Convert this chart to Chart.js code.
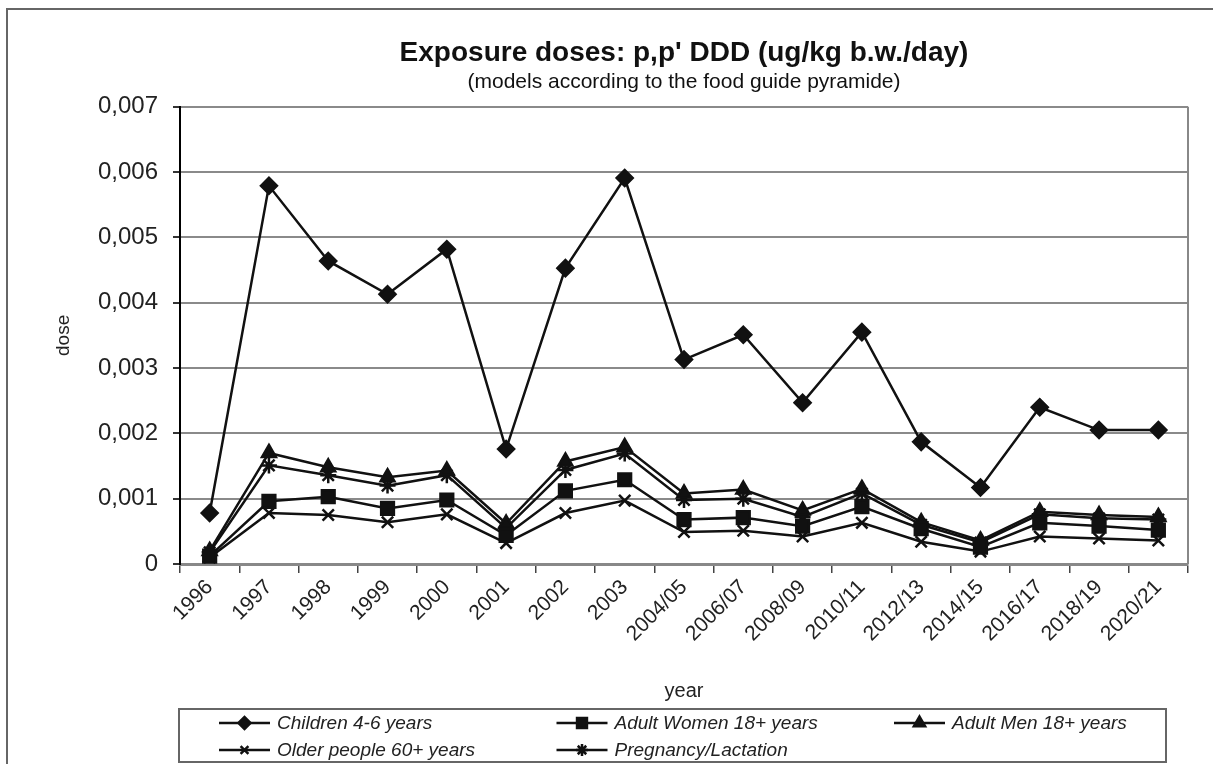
<!DOCTYPE html>
<html>
<head>
<meta charset="utf-8">
<title>Exposure doses: p,p' DDD</title>
<script src="https://cdn.jsdelivr.net/npm/chart.js@4/dist/chart.umd.min.js"></script>
<style>
  html, body { margin: 0; padding: 0; background: #fff; }
  canvas { display: block; }
</style>
</head>
<body>
<canvas id="doseChart" width="1213" height="764"></canvas>
<script>
// values (ug/kg b.w./day)
const years = ["1996", "1997", "1998", "1999", "2000", "2001", "2002", "2003", "2004/05", "2006/07",
  "2008/09", "2010/11", "2012/13", "2014/15", "2016/17", "2018/19", "2020/21"];

const children = [0.00078, 0.00579, 0.00464, 0.00413, 0.00482, 0.00176, 0.00453, 0.00591, 0.00313, 0.00351,
  0.00247, 0.00355, 0.00187, 0.00117, 0.0024, 0.00205, 0.00205];
const adultWomen = [0.00012, 0.00096, 0.00103, 0.00085, 0.00098, 0.00044, 0.00112, 0.00129, 0.00068, 0.00071,
  0.00058, 0.00088, 0.00054, 0.00026, 0.00063, 0.00058, 0.00052];
const adultMen = [0.0002, 0.0017, 0.00148, 0.00133, 0.00143, 0.00062, 0.00157, 0.00179, 0.00108, 0.00114,
  0.00082, 0.00115, 0.00064, 0.00036, 0.0008, 0.00075, 0.00072];
const olderPeople = [0.0001, 0.00078, 0.00075, 0.00064, 0.00076, 0.00032, 0.00078, 0.00097, 0.00049, 0.00051,
  0.00042, 0.00063, 0.00034, 0.00019, 0.00042, 0.00039, 0.00036];
const pregnancy = [0.00018, 0.00151, 0.00136, 0.0012, 0.00136, 0.00055, 0.00144, 0.00169, 0.00098, 0.001,
  0.00072, 0.00108, 0.0006, 0.00033, 0.00076, 0.0007, 0.00068];

const yTicks = ["0", "0,001", "0,002", "0,003", "0,004", "0,005", "0,006", "0,007"];

const FONT = "'Liberation Sans', Arial, sans-serif";
const INK = "#111";

function series(label, data, pointStyle, radius, legendRadius) {
  return {
    label,
    data,
    borderColor: INK,
    backgroundColor: INK,
    borderWidth: 2.5,
    tension: 0,
    pointStyle,
    pointRadius: radius,
    pointHoverRadius: radius,
    pointBackgroundColor: INK,
    pointBorderColor: INK,
    pointBorderWidth: 2.5,
    legendRadius,
  };
}

// frame round the whole picture + right edge of the plot area
const framePlugin = {
  id: "frame",
  beforeDraw(chart) {
    const { ctx } = chart;
    ctx.save();
    ctx.fillStyle = "#fff";
    ctx.fillRect(0, 0, chart.width, chart.height);
    ctx.strokeStyle = "#666";
    ctx.lineWidth = 2;
    ctx.strokeRect(7, 9, chart.width + 20, chart.height + 20);
    ctx.restore();
  },
  afterDatasetsDraw(chart) {
    const { ctx, chartArea } = chart;
    ctx.save();
    ctx.strokeStyle = "#888";
    ctx.lineWidth = 2;
    ctx.beginPath();
    ctx.moveTo(chartArea.right, chartArea.top);
    ctx.lineTo(chartArea.right, chartArea.bottom);
    ctx.stroke();
    ctx.restore();
  },
};

// boxed legend in three columns below the axis title
const boxLegendPlugin = {
  id: "boxLegend",
  afterDraw(chart) {
    const { ctx } = chart;
    ctx.save();
    ctx.strokeStyle = "#666";
    ctx.lineWidth = 2;
    ctx.strokeRect(179, 709, 987, 53);

    chart.data.datasets.forEach((ds, i) => {
      const x = 219 + (i % 3) * 337.5;
      const y = 723 + Math.floor(i / 3) * 27;
      ctx.strokeStyle = INK;
      ctx.fillStyle = INK;
      ctx.lineWidth = 2.5;
      ctx.beginPath();
      ctx.moveTo(x, y);
      ctx.lineTo(x + 51, y);
      ctx.stroke();
      Chart.helpers.drawPoint(ctx, {
        pointStyle: ds.pointStyle, rotation: 0, radius: ds.legendRadius, borderWidth: 2.5,
      }, x + 25.5, y);

      ctx.fillStyle = "#222";
      ctx.font = "italic 19px " + FONT;
      ctx.textBaseline = "middle";
      ctx.textAlign = "left";
      ctx.fillText(ds.label, x + 58, y + 1);
    });
    ctx.restore();
  },
};

new Chart(document.getElementById("doseChart"), {
  type: "line",
  data: {
    labels: years,
    datasets: [
      series("Children 4-6 years", children, "rectRot", 8, 6),
      series("Adult Women 18+ years", adultWomen, "rect", 9, 7),
      series("Adult Men 18+ years", adultMen, "triangle", 8, 6.5),
      series("Older people 60+ years", olderPeople, "crossRot", 8, 5.5),
      series("Pregnancy/Lactation", pregnancy, "star", 8, 6),
    ],
  },
  options: {
    responsive: false,
    animation: false,
    events: [],
    layout: { padding: { left: 0, right: 25, top: 0, bottom: 0 } },
    plugins: {
      legend: { display: false },
      tooltip: { enabled: false },
      title: {
        display: true,
        fullSize: false,
        text: "Exposure doses: p,p' DDD (ug/kg b.w./day)",
        color: INK,
        font: { family: FONT, size: 28, weight: "bold" },
        padding: { top: 36, bottom: 0 },
      },
      subtitle: {
        display: true,
        fullSize: false,
        text: "(models according to the food guide pyramide)",
        color: INK,
        font: { family: FONT, size: 21 },
        padding: { top: 0, bottom: 12 },
      },
    },
    scales: {
      x: {
        offset: true,
        afterFit: (scale) => { scale.height = 200; },
        grid: {
          offset: true,
          drawOnChartArea: false,
          tickLength: 9,
          tickColor: "#444",
          lineWidth: 1.5,
        },
        border: { color: "#888", width: 3 },
        ticks: {
          autoSkip: false,
          minRotation: 45,
          maxRotation: 45,
          padding: 2,
          color: "#222",
          font: { family: FONT, size: 21 },
        },
        title: {
          display: true,
          text: "year",
          color: "#222",
          font: { family: FONT, size: 20 },
          padding: { top: 0, bottom: 61 },
        },
      },
      y: {
        min: 0,
        max: 0.007,
        afterFit: (scale) => { scale.width = 180; },
        grid: {
          color: "#8a8a8a",
          lineWidth: 2,
          tickLength: 7,
          tickColor: "#333",
        },
        border: { color: "#000", width: 2 },
        ticks: {
          stepSize: 0.001,
          padding: 15,
          color: "#222",
          font: { family: FONT, size: 24 },
          callback: (v) => yTicks[Math.round(v * 1000)],
        },
        title: {
          display: true,
          text: "dose",
          color: "#222",
          font: { family: FONT, size: 19 },
          padding: { top: 52, bottom: 0 },
        },
      },
    },
  },
  plugins: [framePlugin, boxLegendPlugin],
});
</script>
</body>
</html>
